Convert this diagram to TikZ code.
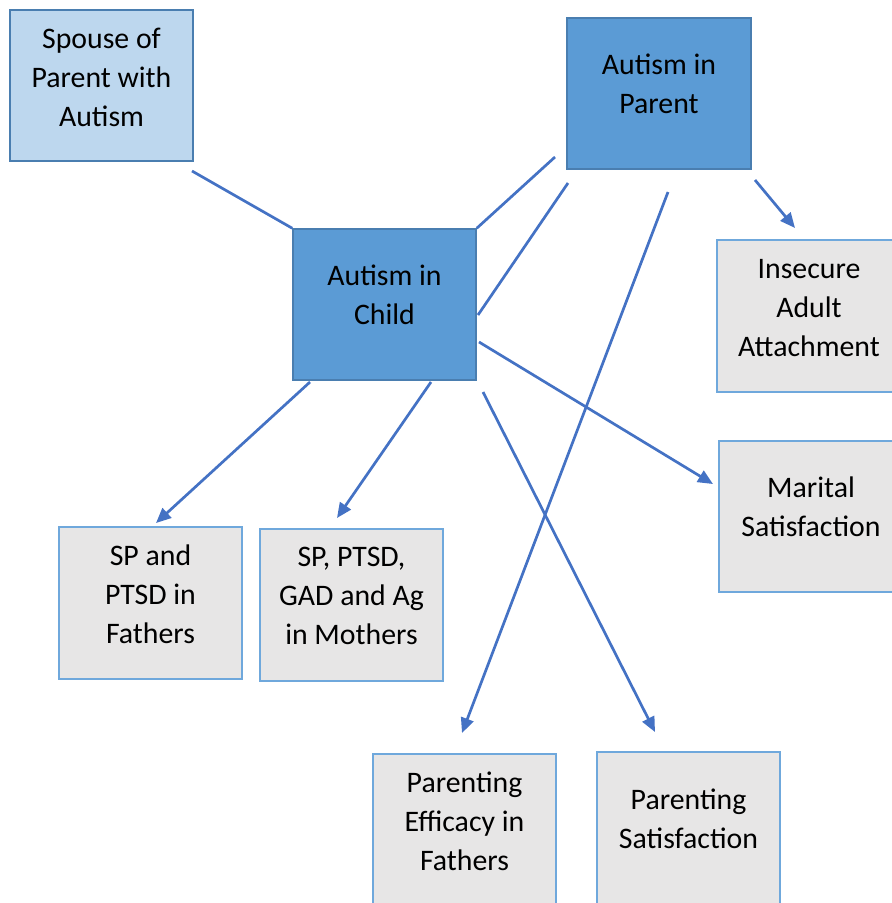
\documentclass[tikz,border=0pt]{standalone}
\usepackage{fontspec}
\setmainfont{Carlito}
\usetikzlibrary{arrows.meta,fit}
\definecolor{paleblue}{HTML}{BDD7EE}
\definecolor{midblue}{HTML}{5B9BD5}
\definecolor{edgeblue}{HTML}{4A7EB0}
\definecolor{lightedge}{HTML}{6FA8DC}
\definecolor{boxgray}{HTML}{E7E6E6}
\definecolor{linkblue}{HTML}{4472C4}
\tikzset{
  frame/.style={rectangle, inner sep=0pt, line width=1.5pt},
  spousebox/.style={frame, draw=edgeblue, fill=paleblue},
  keybox/.style={frame, draw=edgeblue, fill=midblue},
  outbox/.style={frame, draw=lightedge, fill=boxgray},
  txt/.style={align=center, anchor=center, inner sep=0pt,
    font=\fontsize{29.8}{39}\selectfont, text=black},
  link/.style={draw=linkblue, line width=2.7pt},
  arrowlink/.style={link, -{Triangle[length=15pt,width=13pt]}},
}
\begin{document}
\begin{tikzpicture}[x=1pt,y=-1pt]
\useasboundingbox (0,0) rectangle (892,903);
\clip (0,0) rectangle (892,903);

% boxes
\node[spousebox, fit={(10,10) (193,161)}] (spouse) {};
\node[keybox, fit={(567,18) (751,169)}] (parent) {};
\node[keybox, fit={(293,229) (476,380)}] (child) {};
\node[outbox, fit={(717,240) (905,392)}] (insecure) {};
\node[outbox, fit={(719,441) (905,592)}] (marital) {};
\node[outbox, fit={(59,527) (242,679)}] (fathers) {};
\node[outbox, fit={(260,529) (443,681)}] (mothers) {};
\node[outbox, fit={(373,754) (556,915)}] (efficacy) {};
\node[outbox, fit={(597,752) (780,915)}] (parsat) {};

% box texts
\node[txt] (spouseT) at ([yshift=-68pt]spouse.north) {Spouse of\\Parent with\\Autism};
\node[txt] (parentT) at ([yshift=-67pt]parent.north) {Autism in\\Parent};
\node[txt] (childT) at ([yshift=-67pt]child.north) {Autism in\\Child};
\node[txt] (insecureT) at (809,308) {Insecure\\Adult\\Attachment};
\node[txt] (maritalT) at (811,507) {Marital\\Satisfaction};
\node[txt] (fathersT) at ([yshift=-68pt]fathers.north) {SP and\\PTSD in\\Fathers};
\node[txt] (mothersT) at ([yshift=-68pt]mothers.north) {SP, PTSD,\\GAD and Ag\\in Mothers};
\node[txt] (efficacyT) at ([yshift=-68pt]efficacy.north) {Parenting\\Efficacy in\\Fathers};
\node[txt] (parsatT) at ([yshift=-68pt]parsat.north) {Parenting\\Satisfaction};

% connector ends
\coordinate (sp1) at (192,171);
\coordinate (pa1) at (555,157);
\coordinate (pa2) at (568,183);
\coordinate (ch2) at (478,315);
\coordinate (pa3) at (668,192);
\coordinate (ef3) at (462,733);
\coordinate (pa4) at (755,180);
\coordinate (in4) at (795,228);
\coordinate (ch5) at (479,342);
\coordinate (ma5) at (713,484);
\coordinate (ch6) at (310,382);
\coordinate (fa6) at (156,523);
\coordinate (ch7) at (431,382);
\coordinate (mo7) at (337,518);
\coordinate (ch8) at (483,392);
\coordinate (ps8) at (655,732);

% plain connections
\draw[link] (sp1) -- (child.north west);
\draw[link] (pa1) -- (child.north east);
\draw[link] (pa2) -- (ch2);

% directed connections
\draw[arrowlink] (pa3) -- (ef3);
\draw[arrowlink] (pa4) -- (in4);
\draw[arrowlink] (ch5) -- (ma5);
\draw[arrowlink] (ch6) -- (fa6);
\draw[arrowlink] (ch7) -- (mo7);
\draw[arrowlink] (ch8) -- (ps8);
\end{tikzpicture}
\end{document}
